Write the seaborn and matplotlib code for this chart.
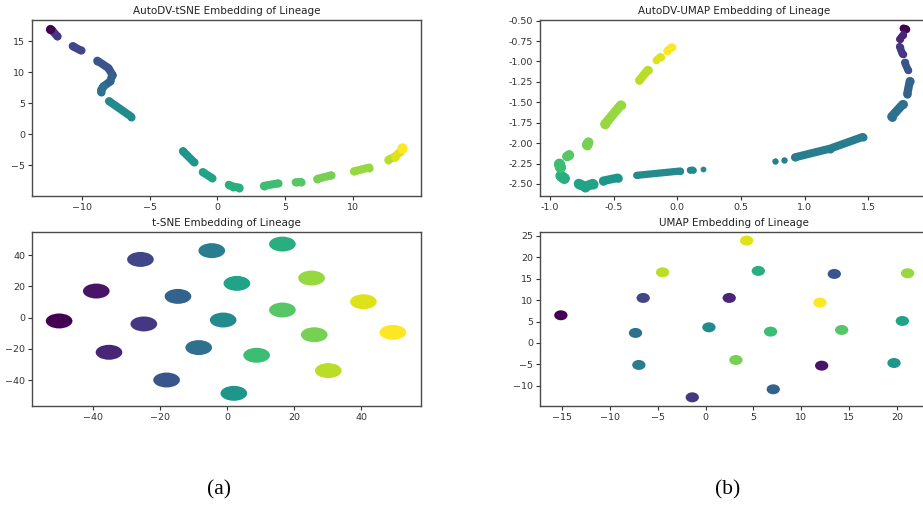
import matplotlib
matplotlib.use("Agg")
import matplotlib.pyplot as plt
import matplotlib.ticker as mticker
import pandas as pd
import seaborn as sns
from matplotlib.path import Path
from matplotlib.transforms import Affine2D

# ------------------------------------------------------------------
# AutoDV-tSNE embedding: one stroke per lineage class along the path
# (vertices are stroke centre lines)
# ------------------------------------------------------------------
adv_tsne_label = [3, 0, 4, 5, 6, 7, 9, 10, 11, 12, 13, 14, 15, 16, 17, 18, 19]
adv_tsne_x = [
    [-12.20, -11.80], [-12.34], [-10.67, -10.09],
    [-8.85, -8.03, -7.74], [-7.74, -7.91, -8.40], [-8.40, -8.57, -8.57],
    [-7.99, -6.36], [-2.54, -1.73], [-1.08, -0.42], [0.84, 1.18, 1.63],
    [3.43, 4.45], [5.77, 6.17], [7.37, 8.38], [10.07, 11.21],
    [12.62, 13.10], [13.10, 13.46], [13.64],
]
adv_tsne_y = [
    [16.72, 15.78], [17.03], [14.19, 13.51],
    [11.85, 10.65, 9.57], [9.57, 8.50, 7.69], [7.69, 7.15, 6.80],
    [5.33, 2.84], [-2.72, -4.49], [-6.10, -7.02], [-8.14, -8.44, -8.60],
    [-8.32, -7.92], [-7.74, -7.69], [-7.20, -6.62], [-5.98, -5.36],
    [-4.11, -3.60], [-3.60, -2.85], [-2.26],
]
adv_tsne_width = [5.8, 6.6, 5.8, 5.8, 5.8, 5.8, 5.8, 5.8, 5.8, 5.8, 5.8,
                  5.8, 5.8, 5.8, 5.8, 5.8, 7.4]

# ------------------------------------------------------------------
# AutoDV-UMAP embedding
# ------------------------------------------------------------------
adv_umap_label = [0, 2, 3, 5, 6, 7, 8, 8, 8, 9, 9, 9, 10, 11, 12, 13, 14,
                  15, 16, 17, 18, 19]
adv_umap_x = [
    [1.775, 1.795], [1.775, 1.745], [1.745, 1.768], [1.785, 1.812],
    [1.825, 1.806], [1.770, 1.682], [0.767], [0.838],
    [0.924, 1.199, 1.455], [-0.319, 0.023], [0.100, 0.120], [0.204],
    [-0.582, -0.468], [-0.774, -0.725, -0.664], [-0.915, -0.889],
    [-0.925, -0.918], [-0.869, -0.848], [-0.712, -0.698], [-0.569, -0.444],
    [-0.297, -0.232], [-0.164, -0.132], [-0.080, -0.045],
]
adv_umap_y = [
    [-0.594, -0.600], [-0.670, -0.728], [-0.818, -0.910], [-1.012, -1.108],
    [-1.240, -1.392], [-1.525, -1.675], [-2.222], [-2.202],
    [-2.173, -2.067, -1.924], [-2.394, -2.341], [-2.330, -2.326], [-2.316],
    [-2.461, -2.424], [-2.497, -2.533, -2.498], [-2.400, -2.430],
    [-2.255, -2.295], [-2.162, -2.140], [-2.020, -1.990], [-1.768, -1.534],
    [-1.229, -1.105], [-0.985, -0.941], [-0.870, -0.825],
]
adv_umap_width = [5.4, 5.2, 5.4, 5.4, 6.0, 6.4, 4.6, 4.6, 5.8, 5.2, 4.8,
                  4.2, 6.2, 7.2, 7.8, 7.8, 6.6, 7.0, 6.8, 6.2, 5.4, 5.6]

# ------------------------------------------------------------------
# t-SNE embedding: cluster centres per lineage class
# ------------------------------------------------------------------
tsne_label = list(range(20))
tsne_x = [-50.2, -39.1, -35.3, -24.9, -25.9, -18.1, -14.7, -8.5, -4.6, -1.2,
          2.0, 2.9, 16.5, 8.8, 16.5, 26.0, 25.2, 30.2, 40.7, 49.5]
tsne_y = [-2.1, 17.0, -22.1, -4.0, 37.2, -39.8, 13.6, -19.1, 42.8, -1.5,
          -48.3, 21.9, 47.0, -24.0, 4.9, -10.9, 25.3, -33.8, 10.2, -9.4]

# ------------------------------------------------------------------
# UMAP embedding: cluster centres per lineage class
# ------------------------------------------------------------------
umap_label = list(range(20))
umap_x = [-15.12, 12.13, 2.47, -1.39, -6.52, 13.45, 7.07, -7.32, -6.97, 0.35,
          19.69, 20.56, 5.51, 6.79, 14.22, 3.17, 21.11, -4.49, 4.29, 11.95]
umap_y = [6.47, -5.30, 10.52, -12.70, 10.52, 16.13, -10.83, 2.34, -5.14, 3.66,
          -4.68, 5.14, 16.84, 2.65, 3.04, -3.98, 16.29, 16.52, 23.93, 9.43]

TITLES = ["AutoDV-tSNE Embedding of Lineage", "AutoDV-UMAP Embedding of Lineage",
          "t-SNE Embedding of Lineage", "UMAP Embedding of Lineage"]
CAPTIONS = ["(a)", "(b)"]

# ------------------------------------------------------------------
plt.rcParams.update({
    "font.family": ["DejaVu Sans"],
    "axes.edgecolor": "#4a4a4a",
    "axes.linewidth": 1.0,
    "xtick.major.size": 2.8,
    "ytick.major.size": 2.8,
    "xtick.major.pad": 2.2,
    "ytick.major.pad": 2.2,
    "xtick.color": "#333333",
    "ytick.color": "#333333",
    "xtick.labelsize": 6.8,
    "ytick.labelsize": 6.8,
})

cmap = sns.color_palette("viridis", as_cmap=True)
N_CLASSES = 20


def class_color(lab):
    return cmap(lab / (N_CLASSES - 1))


def draw_strokes(ax, labels, xs, ys, widths):
    for lab, x, y, w in zip(labels, xs, ys, widths):
        seg = pd.DataFrame({"x": x, "y": y})
        sns.lineplot(data=seg, x="x", y="y", sort=False, estimator=None,
                     color=class_color(lab), linewidth=w, marker="o",
                     markersize=w, markeredgewidth=0, solid_capstyle="round",
                     solid_joinstyle="round", ax=ax)


def blob_marker(ratio):
    return Affine2D().scale(1.0, ratio).transform_path(Path.unit_circle())


fig = plt.figure(figsize=(9.23, 5.05), dpi=100)
W, H = 923.0, 505.0
ax_tl = fig.add_axes([32 / W, (H - 196) / H, 389 / W, 176 / H])
ax_tr = fig.add_axes([540 / W, (H - 196) / H, 388 / W, 176 / H])
ax_bl = fig.add_axes([32 / W, (H - 406) / H, 389 / W, 174.3 / H])
ax_br = fig.add_axes([540 / W, (H - 406) / H, 388 / W, 174.3 / H])

draw_strokes(ax_tl, adv_tsne_label, adv_tsne_x, adv_tsne_y, adv_tsne_width)
ax_tl.set_xlim(-13.67, 15.02)
ax_tl.set_ylim(-9.95, 18.4)
ax_tl.set_xticks([-10, -5, 0, 5, 10])
ax_tl.set_yticks([-5, 0, 5, 10, 15])

draw_strokes(ax_tr, adv_umap_label, adv_umap_x, adv_umap_y, adv_umap_width)
ax_tr.set_xlim(-1.078, 1.968)
ax_tr.set_ylim(-2.647, -0.492)
ax_tr.set_xticks([-1.0, -0.5, 0.0, 0.5, 1.0, 1.5])
ax_tr.set_yticks([-2.5, -2.25, -2.0, -1.75, -1.5, -1.25, -1.0, -0.75, -0.5])
ax_tr.yaxis.set_major_formatter(mticker.FormatStrFormatter("%.2f"))
ax_tr.xaxis.set_major_formatter(mticker.FormatStrFormatter("%.1f"))

sns.scatterplot(x=tsne_x, y=tsne_y, hue=tsne_label, palette="viridis",
                hue_norm=(0, N_CLASSES - 1), marker=blob_marker(0.56), s=369,
                linewidth=0, legend=False, ax=ax_bl)
ax_bl.set_xlim(-58.3, 57.9)
ax_bl.set_ylim(-56.4, 54.9)
ax_bl.set_xticks([-40, -20, 0, 20, 40])
ax_bl.set_yticks([-40, -20, 0, 20, 40])

sns.scatterplot(x=umap_x, y=umap_y, hue=umap_label, palette="viridis",
                hue_norm=(0, N_CLASSES - 1), marker=blob_marker(0.75), s=92,
                linewidth=0, legend=False, ax=ax_br)
ax_br.set_xlim(-17.3, 23.24)
ax_br.set_ylim(-14.73, 26.0)
ax_br.set_xticks([-15, -10, -5, 0, 5, 10, 15, 20])
ax_br.set_yticks([-10, -5, 0, 5, 10, 15, 20, 25])

for ax, title in zip([ax_tl, ax_tr, ax_bl, ax_br], TITLES):
    ax.set_title(title, fontsize=7.5, pad=4, color="#222222")
    ax.set_xlabel("")
    ax.set_ylabel("")

fig.text(219 / W, 0.03, CAPTIONS[0], ha="center", va="center",
         fontsize=15.5, family="Liberation Serif")
fig.text(728 / W, 0.03, CAPTIONS[1], ha="center", va="center",
         fontsize=15.5, family="Liberation Serif")

fig.savefig("out.png", dpi=100)
